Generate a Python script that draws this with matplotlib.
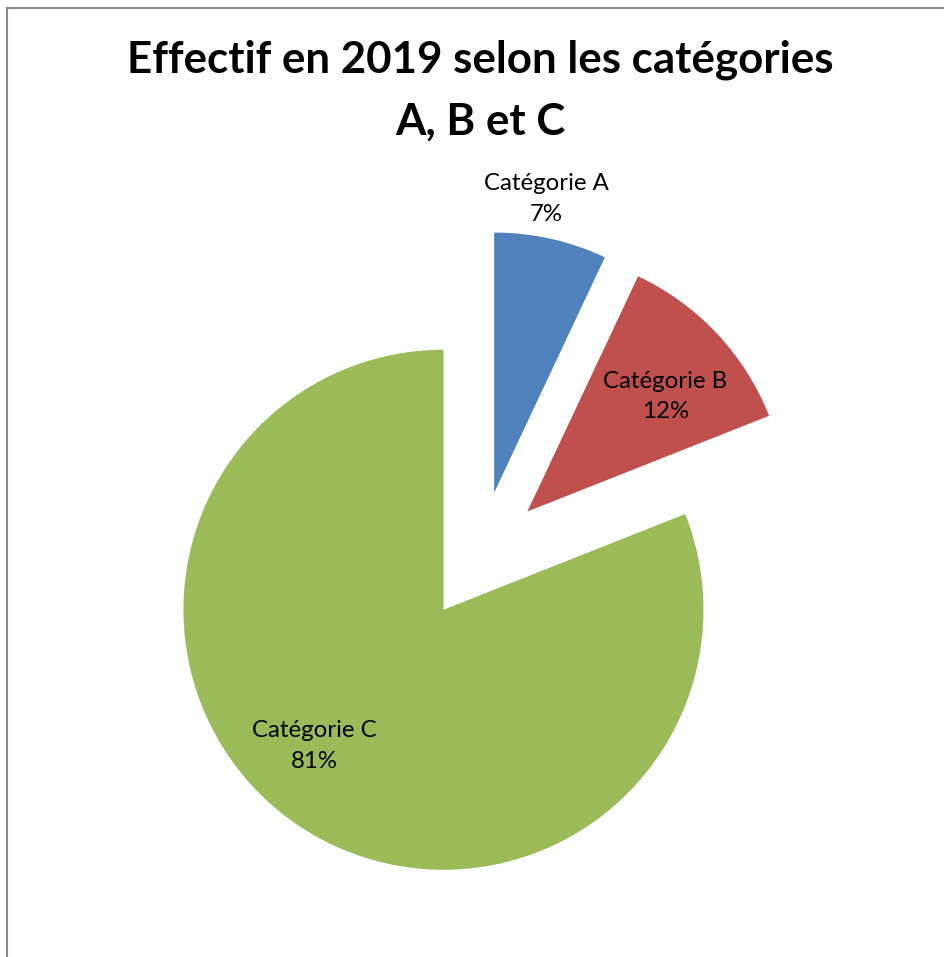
import matplotlib.pyplot as plt
from matplotlib.lines import Line2D
import numpy as np

# effectifs 2019 (parts en %)
categories = ["Catégorie A", "Catégorie B", "Catégorie C"]
parts = [7, 12, 81]
couleurs = ["#4F81BD", "#C0504D", "#9BBB59"]
titre = ["Effectif en 2019 selon les catégories", "A, B et C"]

plt.rcParams['font.family'] = ['Lato', 'DejaVu Sans']

W, H = 944, 957
fig = plt.figure(figsize=(W / 100, H / 100), dpi=100)

# pie centre (px) and radius (px)
cx, cy, r = 480, 556, 260
lim = 1.4
side = 2 * lim * r
ax = fig.add_axes([(cx - side / 2) / W, (H - cy - side / 2) / H, side / W, side / H])

wedges, _ = ax.pie(parts, colors=couleurs, startangle=90, counterclock=False,
                   explode=[0.25, 0.25, 0.25], radius=1.0,
                   wedgeprops=dict(linewidth=0))
ax.set_xlim(-lim, lim)
ax.set_ylim(-lim, lim)

# label placement: (angle clockwise from top in degrees, distance from centre)
label_pos = [(10.5, 1.396), (49.3, 0.94), (221.1, 0.97)]
for cat, p, (a, d) in zip(categories, parts, label_pos):
    ang = np.deg2rad(90 - a)
    ax.text(d * np.cos(ang), d * np.sin(ang), f"{cat}\n{p}%",
            ha='center', va='center', fontsize=17.3, color='black',
            linespacing=1.55)

for ligne, y in zip(titre, [60, 122]):
    fig.text(480 / W, 1 - y / H, ligne, ha='center', va='center',
             fontsize=31.6, fontweight='bold')

# chart frame
fig.add_artist(Line2D([6.5 / W, 6.5 / W], [0, 1 - 8 / H], color='#8c8c8c', lw=1.5))
fig.add_artist(Line2D([6.5 / W, 1], [1 - 8 / H, 1 - 8 / H], color='#8c8c8c', lw=1.5))

fig.savefig("out.png", dpi=100, facecolor='white')
